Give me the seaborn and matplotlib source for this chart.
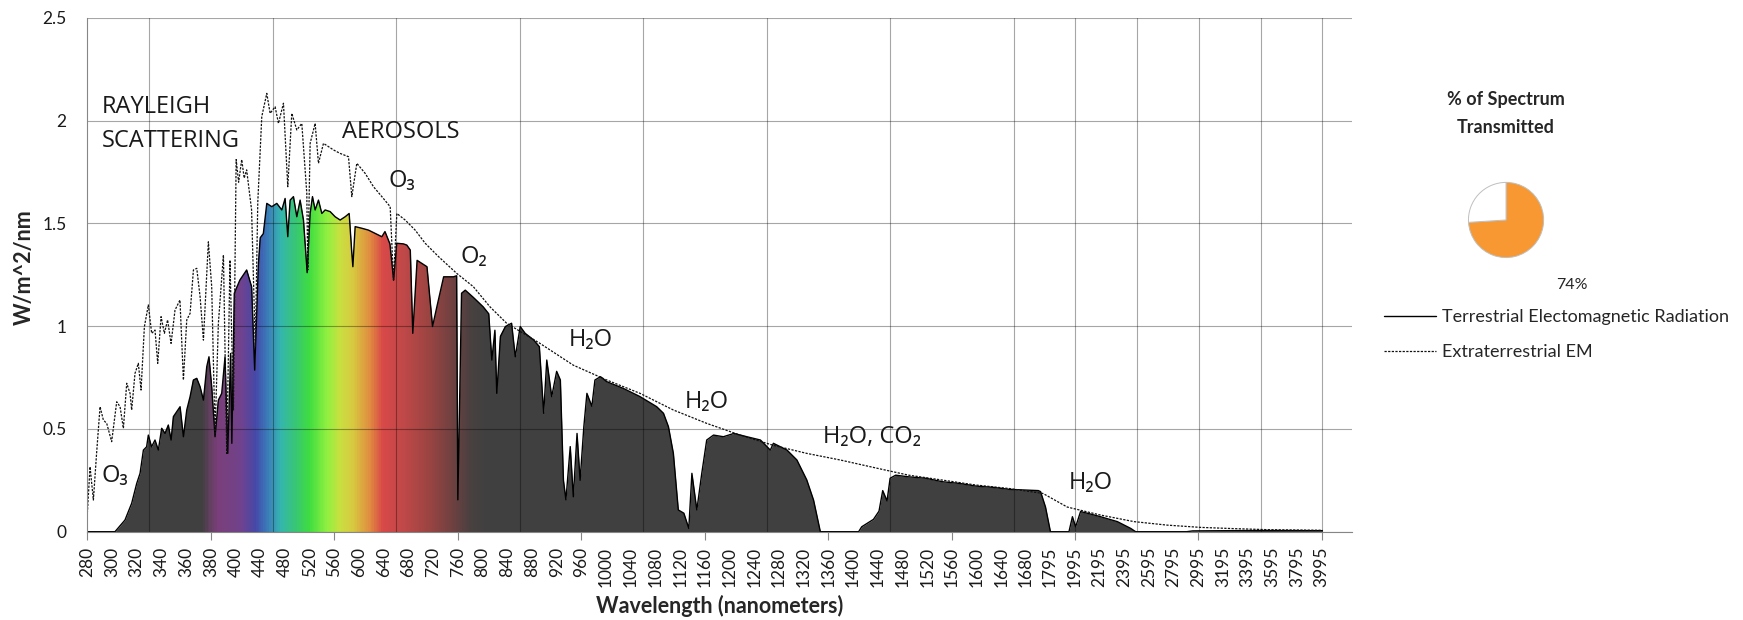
import numpy as np
import matplotlib
matplotlib.use('Agg')
import matplotlib.pyplot as plt
import matplotlib.ticker as mticker
from matplotlib.colors import LinearSegmentedColormap, Normalize
import seaborn as sns

sns.set_style('white')
plt.rcParams['font.family'] = ['Lato', 'DejaVu Sans']
plt.rcParams['axes.linewidth'] = 0.8

#%% data

# terrestrial (ground level) spectrum, W/m^2/nm
terr_wl = [280, 300, 302.4, 310.5, 315.9, 320, 322.7, 325.4, 328, 329.4, 332, 334.8, 337.5, 340.2, 342.9,
           345.6, 347.8, 349.7, 352.4, 355.1, 357.8, 360.5, 363.2, 365.9, 368.6, 371.3, 374, 376.7, 378.5, 380.7,
           383.4, 386.1, 388.8, 391.5, 393.7, 396, 397, 399, 407, 418, 426, 431, 437, 440, 445,
           450.6, 458.7, 466.8, 474.9, 480.3, 484.6, 488.4, 493.8, 499.2, 504.6, 510, 516, 520.8, 524.6, 528.9,
           534.3, 539.7, 545.1, 553.2, 561.3, 569.4, 577.5, 584, 588.3, 590, 593.7, 604.5, 615.3, 626.1, 636.9,
           642, 650, 656, 661, 672, 677.4, 683, 687, 694, 710, 719, 726, 737, 753, 758,
           760, 766, 772, 785, 801, 810, 815, 820, 823, 829, 837, 847, 853, 861, 869,
           883, 892, 899, 904, 912, 920, 926, 931, 935, 942, 947, 953, 958, 964, 969,
           977, 982, 991, 1001, 1028, 1055, 1082, 1093, 1101, 1109, 1117, 1126, 1134, 1139, 1147,
           1155, 1163, 1174, 1190, 1207, 1228, 1250, 1266, 1271, 1293, 1309, 1325, 1336, 1347, 1409,
           1414, 1433, 1442, 1448, 1455, 1460, 1469, 1490, 1518, 1545, 1572, 1599, 1626, 1653, 1700,
           1718, 1758, 1798, 1948, 1976, 2002, 2042, 2096, 2204, 2340, 2448, 2488, 2900, 2950, 3500,
           4000]
terr_val = [0.0, 0.0, 0.0, 0.057, 0.138, 0.235, 0.284, 0.397, 0.413, 0.47, 0.413, 0.446, 0.397, 0.503, 0.478,
            0.519, 0.446, 0.56, 0.584, 0.608, 0.462, 0.592, 0.657, 0.738, 0.746, 0.705, 0.64, 0.803, 0.851, 0.705,
            0.462, 0.64, 0.673, 0.851, 0.381, 0.867, 0.43, 1.16, 1.224, 1.273, 1.192, 0.786, 1.30, 1.43, 1.45,
            1.597, 1.581, 1.597, 1.565, 1.621, 1.435, 1.613, 1.63, 1.532, 1.613, 1.516, 1.26, 1.548, 1.63, 1.565,
            1.613, 1.548, 1.565, 1.557, 1.532, 1.516, 1.532, 1.548, 1.354, 1.289, 1.484, 1.476, 1.467, 1.451, 1.435,
            1.46, 1.40, 1.224, 1.403, 1.40, 1.394, 1.37, 0.965, 1.32, 1.289, 0.998, 1.094, 1.24, 1.24, 1.245,
            0.155, 1.16, 1.175, 1.14, 1.094, 1.06, 0.835, 0.98, 0.673, 0.95, 0.998, 1.014, 0.851, 0.998, 0.965,
            0.932, 0.90, 0.576, 0.835, 0.657, 0.78, 0.738, 0.25, 0.155, 0.414, 0.17, 0.478, 0.25, 0.51, 0.673,
            0.61, 0.738, 0.754, 0.73, 0.697, 0.657, 0.608, 0.576, 0.511, 0.381, 0.106, 0.09, 0.016, 0.284, 0.106,
            0.284, 0.446, 0.47, 0.462, 0.478, 0.462, 0.446, 0.397, 0.43, 0.397, 0.349, 0.252, 0.154, 0.0, 0.0,
            0.024, 0.06, 0.10, 0.20, 0.15, 0.26, 0.275, 0.267, 0.26, 0.243, 0.235, 0.222, 0.216, 0.206, 0.20,
            0.195, 0.12, 0.0, 0.0, 0.073, 0.024, 0.098, 0.09, 0.073, 0.049, 0.016, 0.0, 0.0, 0.004, 0.006,
            0.005]

# extraterrestrial (top of atmosphere) spectrum, W/m^2/nm
ext_wl = [280, 282.2, 284.9, 287.5, 290.3, 293, 295.7, 299.7, 303.8, 306.5, 309.2, 311.9, 314.6, 315.9, 318.6,
          321.3, 323.5, 326.2, 329.4, 332.1, 334.8, 337, 339.7, 342.4, 345, 347.8, 351, 355, 357.8, 360.5,
          363.2, 365.9, 368.6, 371.3, 374, 378, 380.7, 383.4, 386.1, 390.2, 392.9, 395.5, 398.3, 401, 405,
          410, 414, 418, 426, 432, 436, 442.5, 450.6, 456, 464.1, 469.5, 477.6, 484.6, 491.1, 499.2,
          507.3, 515.4, 517, 520.8, 528.9, 534.3, 542.4, 550.5, 558.6, 569.4, 582.9, 588.3, 596.4, 609.9, 623.4,
          636.9, 650.4, 655.8, 661.2, 674.7, 690.9, 707.1, 728.7, 758, 785, 812, 839, 893, 947, 1001,
          1055, 1109, 1163, 1217, 1271, 1325, 1379, 1437, 1490, 1545, 1599, 1653, 1738, 1934, 2204,
          2475, 2744, 3014, 3284, 3554, 4000]
ext_val = [0.09, 0.316, 0.154, 0.381, 0.608, 0.543, 0.527, 0.438, 0.632, 0.608, 0.503, 0.722, 0.673, 0.592, 0.77,
           0.819, 0.689, 0.997, 1.103, 0.965, 0.981, 0.819, 1.046, 0.965, 1.03, 0.916, 1.078, 1.127, 0.738, 1.03,
           1.062, 1.273, 1.281, 1.143, 0.932, 1.41, 1.192, 0.478, 1.013, 1.346, 0.381, 1.321, 0.592, 1.81, 1.70,
           1.81, 1.72, 1.76, 1.565, 0.90, 1.60, 2.019, 2.132, 2.035, 2.067, 1.986, 2.084, 1.678, 2.035, 1.954,
           1.986, 1.646, 1.273, 1.889, 1.986, 1.792, 1.889, 1.873, 1.857, 1.84, 1.824, 1.63, 1.792, 1.743, 1.678,
           1.63, 1.581, 1.224, 1.548, 1.516, 1.467, 1.403, 1.338, 1.257, 1.192, 1.094, 1.014, 0.916, 0.81, 0.738,
           0.673, 0.592, 0.527, 0.47, 0.42, 0.381, 0.349, 0.31, 0.275, 0.251, 0.227, 0.21, 0.186, 0.12, 0.081,
           0.049, 0.032, 0.021, 0.015, 0.01, 0.007]

tick_wl = [280, 300, 320, 340, 360, 380, 400, 440, 480, 520, 560, 600, 640, 680, 720,
           760, 800, 840, 880, 920, 960, 1000, 1040, 1080, 1120, 1160, 1200, 1240, 1280, 1320,
           1360, 1400, 1440, 1480, 1520, 1560, 1600, 1640, 1680, 1795, 1995, 2195, 2395, 2595, 2795,
           2995, 3195, 3395, 3595, 3795, 3995]

pct_transmitted = [74, 26]
series_names = ['Terrestrial Electomagnetic Radiation', 'Extraterrestrial EM']

# visible band colouring of the terrestrial fill
spec_wl = [340, 372, 376, 385, 410, 432, 445, 456, 472, 499, 520, 548, 569, 591, 618,
           639, 672, 714, 756, 780, 808, 840]
spec_col = ['#404040', '#404040', '#573f55', '#7a3f7a', '#6e4390', '#4648a8', '#3d6cb5', '#3a88b8',
            '#35b5b0', '#38c870', '#40dd40', '#90f040', '#c8e040', '#d8c840', '#e08a40', '#d84848',
            '#c04848', '#9a4442', '#6a4040', '#4a4040', '#404040', '#404040']

#%% category-style x axis: every sample is one category in the source sheet
# (0.5 nm steps to 400 nm, 1 nm to 1700 nm, 5 nm beyond), one label per 40 samples
seg_wl = np.array([280, 400, 1700, 4240])
seg_step = np.array([0.5, 1.0, 5.0])
seg_idx = np.concatenate([[0], np.cumsum(np.diff(seg_wl) / seg_step / 40)])

def fwd(w):
    return np.interp(w, seg_wl, seg_idx)

def inv(i):
    return np.interp(i, seg_idx, seg_wl)

#%% plot

fig = plt.figure(figsize=(17.43, 6.2), dpi=100)
ax = fig.add_axes([0.0501, 0.1424, 0.7256, 0.8290])

fill = ax.fill_between(terr_wl, terr_val, color='#404040', lw=0, zorder=1)

cmap = LinearSegmentedColormap.from_list(
    'spectrum', [((w - spec_wl[0]) / (spec_wl[-1] - spec_wl[0]), c) for w, c in zip(spec_wl, spec_col)])
xe = np.linspace(spec_wl[0], spec_wl[-1], 401)
mesh = ax.pcolormesh(xe, [0, 2.5], ((xe[:-1] + xe[1:]) / 2)[None, :], cmap=cmap,
                     norm=Normalize(spec_wl[0], spec_wl[-1]), shading='flat',
                     antialiased=False, lw=0, zorder=1.1)
mesh.set_clip_path(fill.get_paths()[0], ax.transData)

sns.lineplot(x=terr_wl, y=terr_val, ax=ax, color='black', lw=1.0, label=series_names[0], zorder=2)
sns.lineplot(x=ext_wl, y=ext_val, ax=ax, color='#111111', lw=0.9, ls=(0, (1.8, 1.1)),
             label=series_names[1], zorder=2.1)
if ax.get_legend() is not None:
    ax.get_legend().remove()

ax.set_xscale('function', functions=(fwd, inv))
ax.set_xlim(280, 4240)
ax.set_ylim(0, 2.5)

ax.xaxis.set_major_locator(mticker.FixedLocator(tick_wl))
ax.xaxis.set_major_formatter(mticker.FixedFormatter([str(t) for t in tick_wl]))
ax.xaxis.set_minor_locator(mticker.FixedLocator(inv(np.arange(0, 50.1, 2.5))))
ax.yaxis.set_major_locator(mticker.MultipleLocator(0.5))
ax.yaxis.set_major_formatter(mticker.FormatStrFormatter('%g'))

ax.tick_params(axis='x', which='major', length=6, width=0.8, color='#868686', pad=5,
               labelsize=12.5, labelcolor='#1a1a1a', labelrotation=90)
ax.tick_params(axis='x', which='minor', length=0)
ax.tick_params(axis='y', length=5, width=0.8, color='#868686', pad=10,
               labelsize=12.5, labelcolor='#1a1a1a')
for i, t in enumerate(ax.xaxis.get_major_ticks()):
    t.tick1line.set_visible(i % 5 == 0)

ax.set_axisbelow('line')
ax.grid(axis='x', which='minor', color='black', alpha=0.35, lw=0.8)
ax.grid(axis='y', which='major', color='black', alpha=0.35, lw=0.8)
ax.grid(axis='x', which='major', visible=False)

sns.despine(ax=ax)
for s in ['left', 'bottom']:
    ax.spines[s].set_color('#868686')

ax.set_xlabel('Wavelength (nanometers)', fontsize=15.5, fontweight='bold', va='center')
ax.xaxis.set_label_coords(0.5, -0.1446)
ax.set_ylabel('W/m^2/nm', fontsize=15.5, fontweight='bold', va='center')
ax.yaxis.set_label_coords(-0.05, 0.5156)

# absorption / scattering notes
notes = [('RAYLEIGH\nSCATTERING', 291.7, 1.983), ('AEROSOLS', 572, 1.946),
         ('O₃', 647, 1.707), ('O₃', 291.7, 0.272), ('O₂', 764, 1.335),
         ('H₂O', 939, 0.932), ('H₂O', 1127, 0.632), ('H₂O, CO₂', 1352, 0.462),
         ('H₂O', 1946, 0.235)]
for txt, xw, yv in notes:
    ax.text(xw, yv, txt, ha='left', va='center', fontsize=17, color='#1a1a1a',
            family=['Open Sans', 'DejaVu Sans'], linespacing=1.55, zorder=3)

# pie with the transmitted share
pax = fig.add_axes([0.8371, 0.5694, 0.0539, 0.1516])
pax.pie(pct_transmitted, colors=['#F79832', 'white'], startangle=90, counterclock=False,
        wedgeprops=dict(edgecolor='#bfbfbf', linewidth=0.7))
fig.text(1506 / 1743, 1 - 113.5 / 620, '% of Spectrum\nTransmitted', ha='center', va='center',
         fontsize=13, fontweight='bold', linespacing=1.85)
fig.text(1572 / 1743, 1 - 285 / 620, '{}%'.format(pct_transmitted[0]), ha='center', va='center',
         fontsize=11.5, color='#262626')

handles, labels = ax.get_legend_handles_labels()
fig.legend(handles, labels, loc='upper left', bbox_to_anchor=(1384 / 1743, 1 - 309 / 620),
           frameon=False, fontsize=13, handlelength=2.9, handletextpad=0.3,
           labelspacing=1.05, borderpad=0, borderaxespad=0)

fig.savefig('out.png', dpi=100)
